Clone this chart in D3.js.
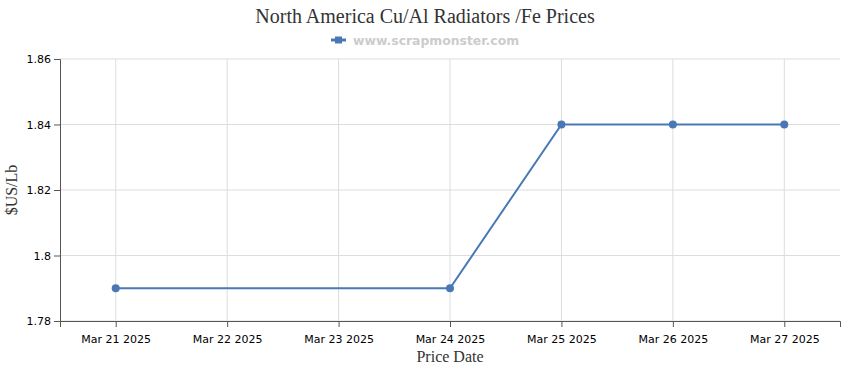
<!DOCTYPE html>
<html>
<head>
<meta charset="utf-8">
<style>
  body { margin: 0; background: #fff; }
  .tick text { font-family: "DejaVu Sans", Verdana, sans-serif; font-size: 11px; fill: #000; }
</style>
</head>
<body>
<script src="https://d3js.org/d3.v7.min.js"></script>
<script>

var dates = ["Mar 21 2025", "Mar 22 2025", "Mar 23 2025", "Mar 24 2025", "Mar 25 2025", "Mar 26 2025", "Mar 27 2025"];
var priceDates = ["Mar 21 2025", "Mar 24 2025", "Mar 25 2025", "Mar 26 2025", "Mar 27 2025"];
var prices = [1.79, 1.79, 1.84, 1.84, 1.84];
var yTicks = [1.78, 1.8, 1.82, 1.84, 1.86];

var margin = {top: 59, right: 10, bottom: 49, left: 60},
    width = 850 - margin.left - margin.right,
    height = 370 - margin.top - margin.bottom;

var x = d3.scalePoint()
    .domain(dates)
    .range([0, width])
    .padding(0.5);

var y = d3.scaleLinear()
    .domain([1.78, 1.86])
    .range([height, 0]);

var svg = d3.select("body").append("svg")
    .attr("width", 850)
    .attr("height", 370);

svg.append("text")
    .attr("x", 425)
    .attr("y", 23)
    .attr("text-anchor", "middle")
    .style("font-family", "'Liberation Serif', 'Times New Roman', serif")
    .style("font-size", "20px")
    .style("fill", "#333")
    .text("North America Cu/Al Radiators /Fe Prices");

// legend
var leg = svg.append("g").attr("transform", "translate(331,40)");
leg.append("line")
    .attr("x1", 0).attr("x2", 15).attr("y1", 0).attr("y2", 0)
    .style("stroke", "#4a78b5").style("stroke-width", 3);
leg.append("rect")
    .attr("x", 4).attr("y", -3.5).attr("width", 7).attr("height", 7)
    .style("fill", "#4a78b5");
leg.append("text")
    .attr("x", 22).attr("y", 4.5)
    .style("font-family", "'DejaVu Sans', Verdana, sans-serif")
    .style("font-size", "12.4px")
    .style("font-weight", "bold")
    .style("fill", "#ccc")
    .text("www.scrapmonster.com");

var g = svg.append("g")
    .attr("transform", "translate(" + margin.left + "," + margin.top + ")");

// grid
g.selectAll(".hgrid")
    .data(yTicks)
  .enter().append("line")
    .attr("class", "hgrid")
    .attr("x1", 0).attr("x2", width)
    .attr("y1", function(d) { return y(d); })
    .attr("y2", function(d) { return y(d); })
    .style("stroke", "#ddd");

g.selectAll(".vgrid")
    .data(dates)
  .enter().append("line")
    .attr("class", "vgrid")
    .attr("x1", function(d) { return x(d); })
    .attr("x2", function(d) { return x(d); })
    .attr("y1", 0).attr("y2", height)
    .style("stroke", "#ddd");

var xAxis = g.append("g")
    .attr("transform", "translate(0," + height + ")")
    .call(d3.axisBottom(x).tickSizeOuter(0).tickSize(6).tickPadding(8));

var yAxis = g.append("g")
    .call(d3.axisLeft(y).tickValues(yTicks).tickFormat(function(d) { return d3.format("")(+d.toFixed(2)); }).tickSizeOuter(0).tickSize(6).tickPadding(3));

g.selectAll(".domain, .tick line").style("stroke", "#555");

g.append("text")
    .attr("text-anchor", "middle")
    .attr("x", width / 2)
    .attr("y", height + 41)
    .style("font-family", "'Liberation Serif', 'Times New Roman', serif")
    .style("font-size", "16px")
    .style("fill", "#333")
    .text("Price Date");

svg.append("text")
    .attr("text-anchor", "middle")
    .attr("transform", "translate(17," + (margin.top + height / 2) + ")rotate(-90)")
    .style("font-family", "'Liberation Serif', 'Times New Roman', serif")
    .style("font-size", "16px")
    .style("fill", "#333")
    .text("$US/Lb");

var line = d3.line()
    .x(function(d, i) { return x(priceDates[i]); })
    .y(function(d) { return y(d); });

g.append("path")
    .datum(prices)
    .attr("d", line)
    .style("fill", "none")
    .style("stroke", "#4a78b5")
    .style("stroke-width", 2);

g.selectAll(".dot")
    .data(prices)
  .enter().append("circle")
    .attr("class", "dot")
    .attr("r", 4)
    .attr("cx", function(d, i) { return x(priceDates[i]); })
    .attr("cy", function(d) { return y(d); })
    .style("fill", "#4a78b5");

</script>
</body>
</html>
